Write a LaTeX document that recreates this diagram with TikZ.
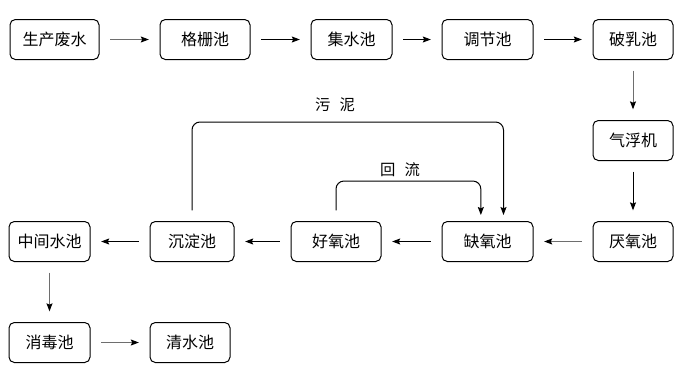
\documentclass[tikz,border=0pt]{standalone}
\usepackage{fontspec}
\newfontfamily\cjk{Noto Sans CJK SC}
\usetikzlibrary{positioning,arrows.meta}
\definecolor{flowGray}{RGB}{110,110,110}
\tikzset{
  pool/.style={rectangle,draw,line width=0.75pt,rounded corners=4pt,
    minimum width=#1,minimum height=30pt,inner sep=0pt,
    font=\cjk\fontsize{12}{14}\selectfont},
  pool/.default=60pt,
  flow/.style={-{Stealth[length=6pt,width=4.5pt,inset=1pt,color=black]},
    draw=black,line width=0.75pt,shorten >=8pt,shorten <=8pt},
  grayflow/.style={flow,draw=flowGray},
  tag/.style={font=\cjk\fontsize{11.5}{13}\selectfont,inner sep=1pt}
}
\begin{document}
\begin{tikzpicture}
  \useasboundingbox (0,0) rectangle (522pt,-279pt);
  % main line
  \node[pool=66.75pt] (raw) at (40.875pt,-29.625pt) {生产废水};
  \node[pool=67.5pt, right=45pt of raw] (screen) {格栅池};
  \node[pool=60.75pt, right=45pt of screen] (collect) {集水池};
  \node[pool=68.25pt, right=36.75pt of collect] (adjust) {调节池};
  \node[pool, right=44.25pt of adjust] (demuls) {破乳池};
  \node[pool, below=45pt of demuls] (float) {气浮机};
  \node[pool, below=45pt of float] (anaer) {厌氧池};
  \node[pool=68.25pt, left=44.25pt of anaer] (anoxic) {缺氧池};
  \node[pool=67.5pt, left=45pt of anoxic] (aerob) {好氧池};
  \node[pool=63pt, left=42pt of aerob] (settle) {沉淀池};
  \node[pool=60.75pt, left=44.25pt of settle] (buffer) {中间水池};
  \node[pool=60.75pt, below=45pt of buffer] (disinf) {消毒池};
  \node[pool, right=44.25pt of disinf] (clear) {清水池};

  \draw[grayflow] (raw) -- (screen);
  \draw[flow] (screen) -- (collect);
  \draw[flow] (collect) -- (adjust);
  \draw[flow] (adjust) -- (demuls);
  \draw[grayflow] (demuls) -- (float);
  \draw[flow] (float) -- (anaer);
  \draw[grayflow] (anaer) -- (anoxic);
  \draw[flow] (anoxic) -- (aerob);
  \draw[flow] (aerob) -- (settle);
  \draw[flow] (settle) -- (buffer);
  \draw[grayflow] (buffer) -- (disinf);
  \draw[grayflow] (disinf) -- (clear);

  % return lines
  \draw[flow, rounded corners=6pt, shorten >=4.5pt]
    (settle.north) |- ([xshift=12pt,yshift=74.25pt]anoxic.north)
    -- ([xshift=12pt]anoxic.north);
  \draw[flow, rounded corners=6pt, shorten >=4.5pt]
    (aerob.north) |- ([xshift=-5pt,yshift=30pt]anoxic.north)
    -- ([xshift=-5pt]anoxic.north);
  \node[tag] (sludge) at (251.25pt,-78.75pt) {污\hspace{0.6em}泥};
  \node[tag] (recycle) at (300pt,-127.5pt) {回\hspace{0.6em}流};
\end{tikzpicture}
\end{document}
